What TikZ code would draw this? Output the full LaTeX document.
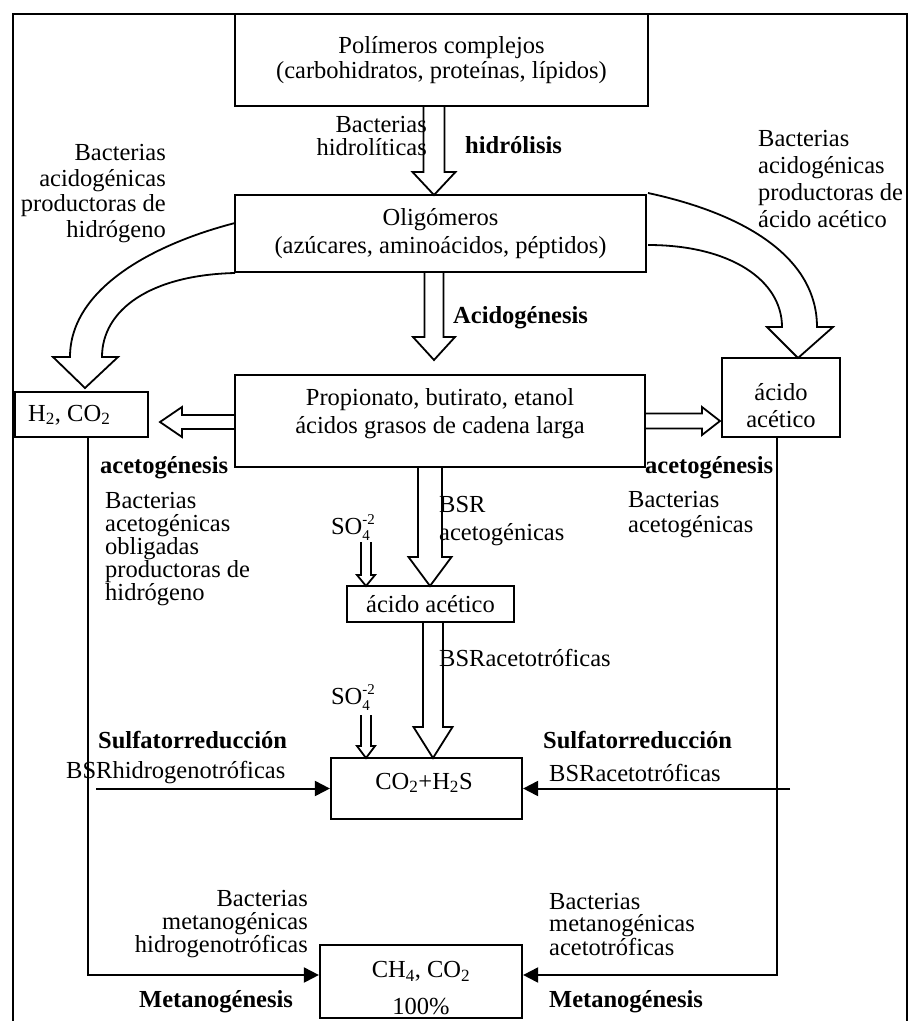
\documentclass[tikz,border=0pt]{standalone}
\usepackage{fontspec}
\setmainfont{Liberation Serif}
\usetikzlibrary{arrows.meta,calc}
\newcommand\vblk[6]{\draw[blk] (#1-#5,#2) -- (#1-#5,#3) -- (#1-#6,#3) -- (#1,#4) -- (#1+#6,#3) -- (#1+#5,#3) -- (#1+#5,#2);}
\newcommand\hblk[6]{\draw[blk] (#2,#1-#5) -- (#3,#1-#5) -- (#3,#1-#6) -- (#4,#1) -- (#3,#1+#6) -- (#3,#1+#5) -- (#2,#1+#5);}
\newcommand\sofour{SO\rlap{\raisebox{-6pt}{\fontsize{15}{15}\selectfont 4}}\raisebox{10pt}{\fontsize{15}{15}\selectfont -2}}
\begin{document}
\fontsize{24.5}{26}\selectfont
\begin{tikzpicture}[x=1pt,y=-1pt,
  box/.style={draw,line width=2.2pt,inner sep=0pt,align=center},
  lbl/.style={inner sep=0pt},
  blk/.style={draw,line width=1.8pt,line join=miter},
  flow/.style={line width=2pt,-{Triangle[length=15pt,width=15pt]}},
  frame/.style={draw,line width=1.8pt}]
\useasboundingbox (0,0) rectangle (911,1021);
\draw[frame] (13,14) rectangle (907,1045);

% boxes
\node[box,minimum width=413pt,minimum height=92pt,font=\fontsize{24.5}{25}\selectfont] (b1) at (441.5,60)
  {Polímeros complejos\\(carbohidratos, proteínas, lípidos)};
\node[box,minimum width=411pt,minimum height=77pt,font=\fontsize{24.5}{28}\selectfont] (b2) at (440.5,233.5)
  {Oligómeros\\(azúcares, aminoácidos, péptidos)};
\node[box,minimum width=410pt,minimum height=92pt] (b3) at (440,421) {};
\node[lbl,align=center,font=\fontsize{24.5}{28}\selectfont] (b3t) at (440,414)
  {Propionato, butirato, etanol\\ácidos grasos de cadena  larga};
\node[box,minimum width=133pt,minimum height=45pt] (h2) at (81.5,414.5) {};
\node[lbl,anchor=west] (h2t) at (28,415) {H\textsubscript{2}, CO\textsubscript{2}};
\node[box,minimum width=118pt,minimum height=79pt] (acido) at (781,397.5) {};
\node[lbl,align=center,font=\fontsize{24.5}{27}\selectfont] (acidot) at (781,406) {ácido\\acético};
\node[box,minimum width=167pt,minimum height=36pt] (aa) at (430.5,604) {ácido acético};
\node[box,minimum width=191pt,minimum height=61pt] (co2) at (426.5,788.5) {};
\node[lbl] (co2t) at (424,783) {CO\textsubscript{2}+H\textsubscript{2}S};
\node[box,minimum width=202pt,minimum height=73pt] (ch4) at (421,981.5) {};
\node[lbl,align=center,font=\fontsize{24.5}{37}\selectfont] (ch4t) at (421,988.5) {CH\textsubscript{4}, CO\textsubscript{2}\\100\%};

% block arrows
\vblk{434}{106}{172}{195}{10.5}{21.5}
\vblk{434}{272}{337}{360}{9.5}{21}
\vblk{430}{467}{557}{586}{12}{21.5}
\vblk{433}{622}{727}{758}{10}{19.5}
\vblk{366}{542}{575}{586}{5}{9}
\vblk{366}{715}{746}{758}{5}{9}
\hblk{422}{235}{182}{160}{7}{15}
\hblk{421}{645}{702}{720}{7.5}{14}
\draw[blk] (235,223) .. controls (150,245) and (70,290) .. (70,357) -- (53,357) -- (85,388) -- (118,357) -- (102,357) .. controls (102,310) and (150,275) .. (235,273);
\draw[blk] (648,193) .. controls (750,215) and (817,260) .. (817,327) -- (833,327) -- (798,358) -- (767,327) -- (782,327) .. controls (782,280) and (730,245) .. (648,245);

% thin connectors
\coordinate (l1) at (96,788.5);
\coordinate (r1) at (790,788.5);
\draw[flow] (l1) -- (co2.west);
\draw[flow] (r1) -- (co2.east);
\draw[flow] ([xshift=6.5pt]h2.south) |- ([yshift=6.5pt]ch4.west);
\draw[flow] ([xshift=-4pt]acido.south) |- ([yshift=6.5pt]ch4.east);

% labels
\node[lbl,anchor=east,align=right,font=\fontsize{24.5}{22.5}\selectfont] (hidro) at (427,136) {Bacterias\\hidrolíticas};
\node[lbl,anchor=west,font=\bfseries] (hidrolisis) at (465,145) {hidrólisis};
\node[lbl,anchor=east,align=right,font=\fontsize{24.5}{25.5}\selectfont] (lt) at (166,193.5) {Bacterias\\acidogénicas\\productoras de\\hidrógeno};
\node[lbl,anchor=west,align=left,font=\fontsize{24.5}{27}\selectfont] (rt) at (758,179) {Bacterias\\acidogénicas\\productoras de\\ácido acético};
\node[lbl,anchor=west,font=\bfseries] (acidog) at (453,318) {Acidogénesis};
\node[lbl,anchor=west,font=\bfseries] (acetL) at (100,468) {acetogénesis};
\node[lbl,anchor=west,font=\bfseries] (acetR) at (645,468) {acetogénesis};
\node[lbl,anchor=west,align=left,font=\fontsize{24.5}{23}\selectfont] (obl) at (105,549) {Bacterias\\acetogénicas\\obligadas\\productoras de\\hidrógeno};
\node[lbl,anchor=west,align=left,font=\fontsize{24.5}{25}\selectfont] (acetR2) at (628,514.5) {Bacterias\\acetogénicas};
\node[lbl,anchor=west,align=left,font=\fontsize{24.5}{28}\selectfont] (bsr1) at (439,521) {BSR\\acetogénicas};
\node[lbl] (so4a) at (353,528) {\sofour};
\node[lbl] (so4b) at (353,698) {\sofour};
\node[lbl,anchor=west] (bsracet) at (439,658) {BSRacetotróficas};
\node[lbl,anchor=west,font=\bfseries] (sulfL) at (98,740) {Sulfatorreducción};
\node[lbl,anchor=west,font=\bfseries] (sulfR) at (543,740) {Sulfatorreducción};
\node[lbl,anchor=west] (bsrh) at (66,773) {BSRhidrogenotróficas};
\node[lbl,anchor=west] (bsra) at (549,773) {BSRacetotróficas};
\node[lbl,anchor=east,align=right,font=\fontsize{24.5}{22.5}\selectfont] (metL) at (308,924.5) {Bacterias\\metanogénicas\\hidrogenotróficas};
\node[lbl,anchor=west,align=left,font=\fontsize{24.5}{22.5}\selectfont] (metR) at (549,924.5) {Bacterias\\metanogénicas\\acetotróficas};
\node[lbl,anchor=west,font=\bfseries] (metaL) at (139,1002) {Metanogénesis};
\node[lbl,anchor=west,font=\bfseries] (metaR) at (549,1002) {Metanogénesis};
\end{tikzpicture}
\end{document}
